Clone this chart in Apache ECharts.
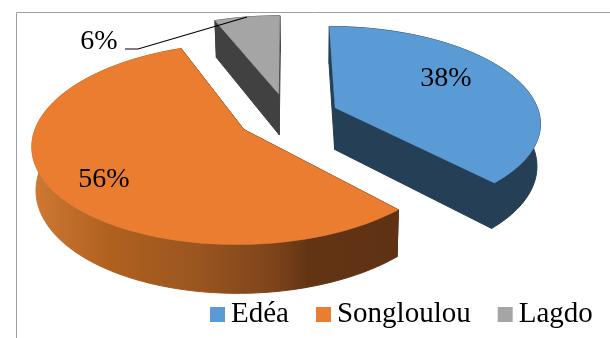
<!DOCTYPE html>
<html>
<head>
<meta charset="utf-8">
<style>html,body{margin:0;padding:0;background:#fff}#chart{width:610px;height:338px}</style>
<script src="https://cdn.jsdelivr.net/npm/echarts@6/dist/echarts.min.js"></script>
</head>
<body>
<div id="chart"></div>
<script>
// Share of each site, in percent, clockwise from twelve o'clock.
const categories = ['Edéa', 'Songloulou', 'Lagdo'];
const shares = [38, 56, 6];
const topColors = ['#5B9BD5', '#EB7D31', '#A5A5A5'];
const sideColors = ['#243F56', '#5F3214', '#414141'];
const labelSpots = [[446, 79], [104, 180], [99, 42]];

// Camera of the tilted disc: a plane seen in perspective, then extruded downward.
const cam = { vx: 288, y0: 116.5, fx: 205, fy: 95, k: 0.14, explode: 0.25 };
const FONT = '"Liberation Serif", "Times New Roman", serif';
const total = shares.reduce((a, b) => a + b, 0);

function project(px, py) {
  const w = 1 + cam.k * py;
  return [cam.vx + cam.fx * px / w, cam.y0 - cam.fy * py / w];
}
// Lower rim of the disc for a point of the top face.
function drop(p) {
  return [310 + (p[0] - 310) * 0.985, p[1] + 37 + (p[1] - 22) * 0.053];
}

function renderSlice(index) {
  return function (params, api) {
    const value = api.value(0);
    const before = shares.slice(0, index).reduce((a, b) => a + b, 0);
    const a0 = before / total * Math.PI * 2;
    const a1 = a0 + value / total * Math.PI * 2;
    const mid = (a0 + a1) / 2;
    const ox = Math.sin(mid) * cam.explode;
    const oy = Math.cos(mid) * cam.explode;

    const apex = project(ox, oy);
    const arc = [];
    const steps = 90;
    for (let i = 0; i <= steps; i++) {
      const t = a0 + (a1 - a0) * i / steps;
      arc.push(project(ox + Math.sin(t), oy + Math.cos(t)));
    }
    const arcLow = arc.map(drop);
    const apexLow = drop(apex);
    const first = arc[0], last = arc[steps];

    let wallFill = sideColors[index];
    if (index === 1) {
      // Rim of the large slice darkens from left to right.
      wallFill = new echarts.graphic.LinearGradient(35, 0, 400, 0, [
        { offset: 0, color: '#CE7833' },
        { offset: 0.2, color: '#B0611F' },
        { offset: 0.45, color: '#9A5520' },
        { offset: 0.66, color: '#7C431A' },
        { offset: 0.75, color: '#633414' },
        { offset: 1, color: '#5F3214' }
      ], true);
    }
    // A thin line in the fill colour closes the seams between adjoining faces.
    const poly = (points, fill, seam) => ({
      type: 'polygon', shape: { points },
      style: { fill, stroke: fill, lineWidth: seam }
    });

    const children = [
      poly([apex, first, drop(first), apexLow], sideColors[index], 1),
      poly([apex, last, drop(last), apexLow], sideColors[index], 1),
      poly(arc.concat(arcLow.slice().reverse()), wallFill, 1),
      poly([apex].concat(arc), topColors[index], 0.4)
    ];
    if (index === 2) {
      // Leader from the small slice to its label.
      children.push({
        type: 'polyline',
        shape: { points: [[125, 49], [138, 49], [247, 17]] },
        style: { stroke: '#000', lineWidth: 1.2, fill: null }
      });
    }
    children.push({
      type: 'text',
      style: {
        text: value + '%', x: labelSpots[index][0], y: labelSpots[index][1],
        align: 'center', verticalAlign: 'middle',
        font: '28px ' + FONT, fill: '#000'
      }
    });
    return { type: 'group', children };
  };
}

const chart = echarts.init(document.getElementById('chart'), null, { renderer: 'canvas' });
chart.setOption({
  animation: false,
  backgroundColor: '#fff',
  graphic: [{
    type: 'rect', silent: true, z: -1,
    shape: { x: 16.5, y: 12.5, width: 800, height: 600 },
    style: { fill: '#fff', stroke: '#A0A0A0', lineWidth: 1 }
  }],
  legend: {
    data: categories,
    left: 210, top: 300,
    padding: 0,
    itemWidth: 15, itemHeight: 15, itemGap: 27,
    icon: 'rect',
    textStyle: { fontFamily: FONT, fontSize: 29, color: '#000', padding: [0, 0, 0, 1] }
  },
  series: categories.map((name, i) => ({
    type: 'custom',
    name,
    coordinateSystem: 'none',
    color: topColors[i],
    itemStyle: { color: topColors[i] },
    data: [[shares[i]]],
    renderItem: renderSlice(i)
  }))
});
</script>
</body>
</html>
